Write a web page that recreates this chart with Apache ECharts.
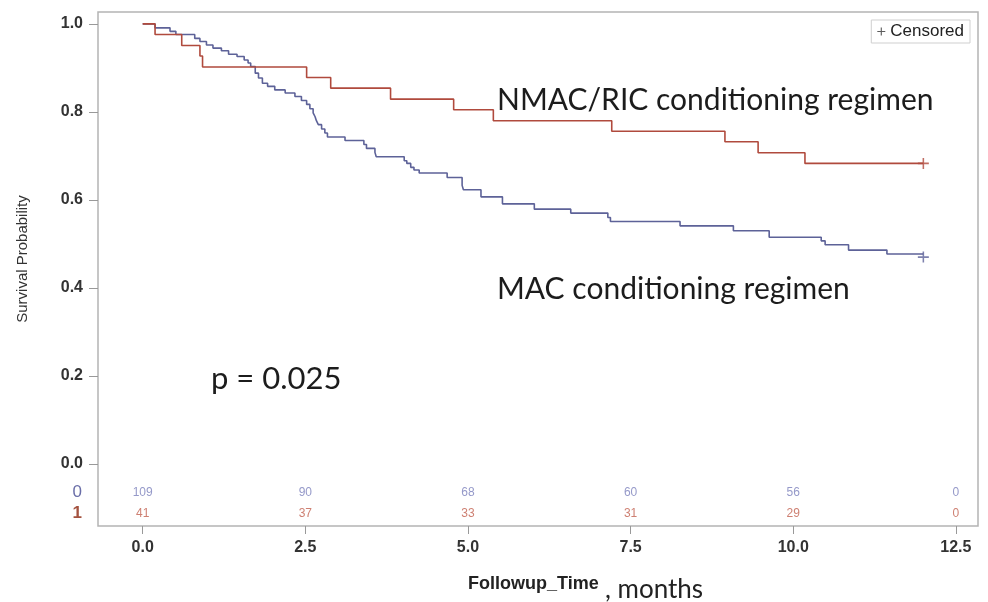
<!DOCTYPE html>
<html>
<head>
<meta charset="utf-8">
<script src="https://cdn.jsdelivr.net/npm/echarts@6/dist/echarts.min.js"></script>
<style>
  html, body { margin: 0; padding: 0; background: #fff; }
  #chart { width: 988px; height: 602px; }
</style>
</head>
<body>
<div id="chart"></div>
<script>
// MAC conditioning (group 0) - Kaplan-Meier steps
const macTime = [0, 0.19, 0.42, 0.51, 0.80, 0.88, 0.98, 1.08, 1.21, 1.32, 1.45, 1.56, 1.62, 1.66,
  1.73, 1.78, 1.84, 1.92, 2.03, 2.19, 2.34, 2.44, 2.52, 2.57, 2.62, 2.65, 2.67, 2.70, 2.75, 2.80,
  2.84, 3.11, 3.40, 3.44, 3.57, 3.59, 4.02, 4.06, 4.12, 4.17, 4.25, 4.68, 4.91, 4.93, 5.20, 5.53,
  6.02, 6.58, 7.15, 7.19, 8.26, 9.08, 9.63, 10.43, 10.49, 10.85, 11.44, 12.0];
const macSurv = [1, 0.991, 0.983, 0.976, 0.967, 0.960, 0.952, 0.945, 0.939, 0.931, 0.926, 0.918, 0.911, 0.903,
  0.888, 0.877, 0.865, 0.858, 0.850, 0.843, 0.835, 0.826, 0.817, 0.807, 0.798, 0.789, 0.780, 0.771, 0.761, 0.752,
  0.743, 0.735, 0.726, 0.717, 0.708, 0.698, 0.689, 0.683, 0.674, 0.668, 0.661, 0.651, 0.633, 0.623, 0.607, 0.591,
  0.579, 0.570, 0.560, 0.551, 0.541, 0.530, 0.515, 0.507, 0.498, 0.486, 0.477, 0.477];

// NMAC/RIC conditioning (group 1)
const nmacTime = [0, 0.19, 0.60, 0.88, 0.92, 2.52, 2.89, 3.81, 4.78, 5.39, 7.21, 8.95, 9.46, 10.18, 12.0];
const nmacSurv = [1, 0.976, 0.951, 0.927, 0.902, 0.878, 0.854, 0.829, 0.805, 0.780, 0.756, 0.732, 0.707, 0.683, 0.683];

// censored marks at end of follow-up
const censorTime = 12.0;
const censorMAC = 0.470;
const censorNMAC = 0.683;

// numbers at risk
const riskTimes = [0, 2.5, 5, 7.5, 10, 12.5];
const riskMAC = [109, 90, 68, 60, 56, 0];
const riskNMAC = [41, 37, 33, 31, 29, 0];

const xTicks = [0, 2.5, 5, 7.5, 10, 12.5];
const yTicks = [0, 0.2, 0.4, 0.6, 0.8, 1.0];

const BLUE = '#5d6298';
const RED = '#b04a3d';
const PLUS = 'path://M4.3,0H5.7V4.3H10V5.7H5.7V10H4.3V5.7H0V4.3H4.3Z';
const SANS = '"Liberation Sans", Arial, sans-serif';
const LATO = 'Lato, "Open Sans", sans-serif';

const xMin = -0.687, xMax = 12.84;
const yMin = -0.141, yMax = 1.027;

const chart = echarts.init(document.getElementById('chart'));

const option = {
  animation: false,
  backgroundColor: '#fff',
  grid: [
    { left: 98, top: 12, right: 10, bottom: 76, show: true, borderColor: '#b4b4b4', borderWidth: 1.5 },
    { left: 98, right: 10, top: 482, height: 42 }
  ],
  legend: {
    data: [{ name: 'Censored', icon: PLUS }],
    right: 18,
    top: 20,
    padding: [3, 6, 3, 6],
    itemWidth: 8,
    itemHeight: 8,
    borderColor: '#cfcfcf',
    borderWidth: 1,
    selectedMode: false,
    textStyle: { fontSize: 17, color: '#222', fontFamily: SANS }
  },
  xAxis: [
    {
      type: 'value', gridIndex: 0, min: xMin, max: xMax,
      axisLine: { show: false, onZero: false },
      splitLine: { show: false },
      axisTick: { show: true, customValues: xTicks, length: 8, lineStyle: { color: '#999' } },
      axisLabel: {
        customValues: xTicks, formatter: v => v.toFixed(1), margin: 14,
        fontSize: 16, fontWeight: 'bold', color: '#333', fontFamily: SANS
      }
    },
    { type: 'value', gridIndex: 1, min: xMin, max: xMax, show: false }
  ],
  yAxis: [
    {
      type: 'value', gridIndex: 0, min: yMin, max: yMax,
      axisLine: { show: false, onZero: false },
      splitLine: { show: false },
      axisTick: { show: true, customValues: yTicks, length: 9, lineStyle: { color: '#999' } },
      axisLabel: {
        customValues: yTicks, formatter: v => v.toFixed(1), margin: 15,
        fontSize: 16, fontWeight: 'bold', color: '#333', fontFamily: SANS
      }
    },
    {
      type: 'category', gridIndex: 1, data: ['1', '0'],
      axisLine: { show: false }, axisTick: { show: false }, splitLine: { show: false },
      axisLabel: {
        margin: 16,
        formatter: v => (v === '0' ? '{a|0}' : '{b|1}'),
        rich: {
          a: { color: '#6a6ea8', fontSize: 17, fontFamily: SANS },
          b: { color: '#a4523f', fontSize: 17, fontWeight: 'bold', fontFamily: SANS }
        }
      }
    }
  ],
  series: [
    {
      name: 'MAC', type: 'line', step: 'end', showSymbol: false, silent: true,
      data: macTime.map((t, i) => [t, macSurv[i]]),
      lineStyle: { color: BLUE, width: 1.6 }
    },
    {
      name: 'NMAC/RIC', type: 'line', step: 'end', showSymbol: false, silent: true,
      data: nmacTime.map((t, i) => [t, nmacSurv[i]]),
      lineStyle: { color: RED, width: 1.6 }
    },
    {
      name: 'Censored', type: 'scatter', symbol: PLUS, symbolSize: 11, silent: true,
      itemStyle: { color: '#333' },
      data: [
        { value: [censorTime, censorNMAC], itemStyle: { color: RED } },
        { value: [censorTime, censorMAC], itemStyle: { color: BLUE } }
      ]
    },
    {
      name: 'risk0', type: 'scatter', xAxisIndex: 1, yAxisIndex: 1, symbolSize: 0, silent: true,
      data: riskTimes.map((t, i) => [t, '0', riskMAC[i]]),
      label: { show: true, position: 'inside', formatter: p => p.value[2], fontSize: 12, color: '#7b80bb', fontFamily: SANS }
    },
    {
      name: 'risk1', type: 'scatter', xAxisIndex: 1, yAxisIndex: 1, symbolSize: 0, silent: true,
      data: riskTimes.map((t, i) => [t, '1', riskNMAC[i]]),
      label: { show: true, position: 'inside', formatter: p => p.value[2], fontSize: 12, color: '#c2604f', fontFamily: SANS }
    }
  ],
  graphic: [
    {
      type: 'text', x: 23, y: 259, rotation: Math.PI / 2,
      style: { text: 'Survival Probability', fontSize: 15, fill: '#333', fontFamily: '"Liberation Sans Narrow", ' + SANS, align: 'center', verticalAlign: 'middle' }
    },
    {
      type: 'text', x: 468, y: 584,
      style: { text: 'Followup_Time', fontSize: 18, fontWeight: 'bold', fill: '#222', fontFamily: SANS, align: 'left', verticalAlign: 'middle' }
    },
    {
      type: 'text', x: 605, y: 590,
      style: { text: ', months', fontSize: 26, fill: '#222', fontFamily: LATO, align: 'left', verticalAlign: 'middle' }
    },
    {
      type: 'text', x: 497, y: 100,
      style: { text: 'NMAC/RIC conditioning regimen', fontSize: 30, fill: '#1c1c1c', fontFamily: LATO, align: 'left', verticalAlign: 'middle' }
    },
    {
      type: 'text', x: 497, y: 289,
      style: { text: 'MAC conditioning regimen', fontSize: 30, fill: '#1c1c1c', fontFamily: LATO, align: 'left', verticalAlign: 'middle' }
    },
    {
      type: 'text', x: 211, y: 379,
      style: { text: 'p = 0.025', fontSize: 31, fill: '#1c1c1c', fontFamily: LATO, align: 'left', verticalAlign: 'middle' }
    }
  ]
};

chart.setOption(option);
</script>
</body>
</html>
